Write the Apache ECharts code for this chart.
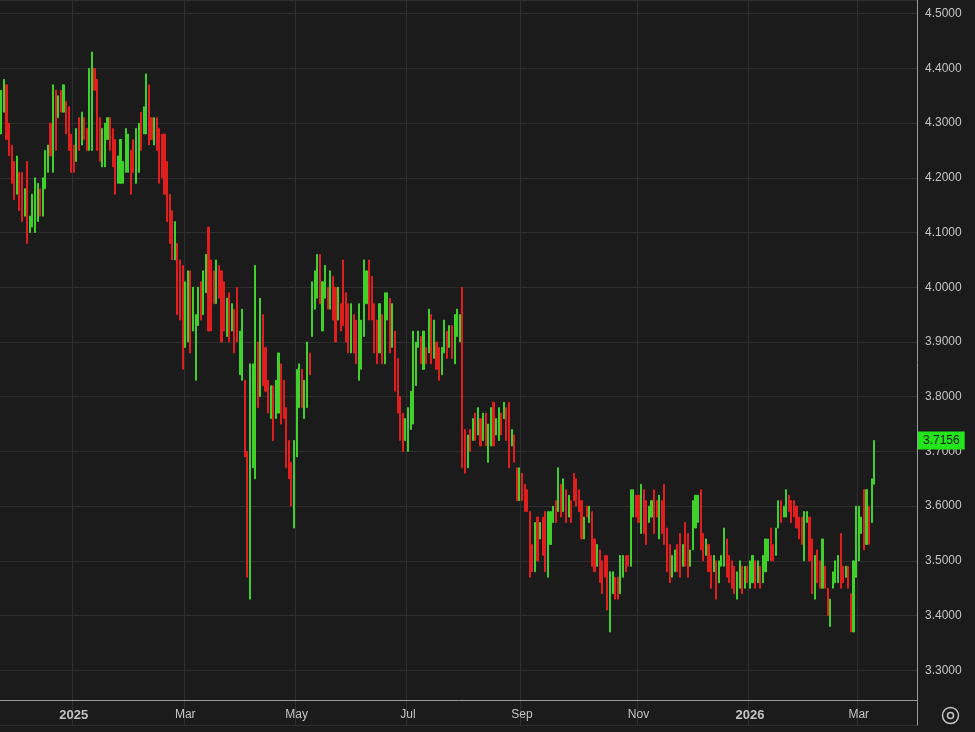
<!DOCTYPE html>
<html>
<head>
<meta charset="utf-8">
<script src="https://cdn.jsdelivr.net/npm/echarts@6/dist/echarts.min.js"></script>
<style>
  html, body { margin: 0; padding: 0; background: #1b1b1b; }
  #main { width: 975px; height: 732px; }
</style>
</head>
<body>
<div id="main"></div>
<script>
// daily bars: low, high and colour (g = up, r = down)
var lows = [4.28,4.32,4.27,4.24,4.19,4.16,4.17,4.14,4.12,4.13,4.08,4.10,4.11,4.10,
  4.12,4.13,
  4.13,4.18,4.21,4.24,4.21,4.25,4.31,4.32,4.32,4.28,4.25,4.21,4.21,4.23,4.25,4.26,4.27,4.25,4.25,4.25,4.36,4.25,4.23,4.22,4.22,4.27,
  4.25,4.22,4.17,4.19,4.19,4.19,4.21,4.21,4.17,4.21,4.19,4.21,4.25,4.28,4.28,4.26,4.27,4.26,4.25,4.19,
  4.20,
  4.17,4.12,4.08,4.05,4.05,3.95,3.94,3.85,3.89,3.90,3.88,3.92,3.83,3.93,3.94,3.95,3.99,3.92,3.92,3.97,3.97,3.98,3.90,3.92,
  3.91,3.90,3.92,3.88,
  3.90,3.84,3.83,3.69,3.47,3.43,3.67,3.65,3.78,3.80,3.82,3.81,3.77,3.76,3.72,3.76,
  3.77,3.75,3.76,3.67,3.65,3.60,3.56,3.69,3.78,3.78,3.76,3.78,3.84,3.91,3.96,3.98,3.97,3.92,3.98,3.96,
  3.96,3.94,3.90,3.94,3.92,3.93,3.90,3.88,3.88,3.88,3.86,3.83,3.85,3.91,3.97,3.94,3.94,3.88,3.86,3.88,
  3.86,3.86,3.94,3.88,3.89,3.81,3.77,3.72,3.70,3.72,3.70,3.74,3.75,3.82,3.89,3.86,3.85,3.86,3.88,3.86,
  3.87,3.85,3.83,3.84,3.88,3.87,3.89,3.87,3.86,3.91,3.90,3.67,3.66,3.67,3.70,3.72,
  3.72,3.73,3.71,3.72,
  3.71,3.68,3.71,3.71,3.73,3.72,3.73,3.76,3.72,3.67,3.71,3.68,3.61,3.61,3.61,3.59,3.59,3.47,3.48,3.48,3.50,3.54,3.51,3.48,
  3.47,3.53,3.57,3.57,3.59,
  3.58,3.59,3.57,3.58,3.57,
  3.61,3.60,3.59,3.54,3.54,3.58,3.57,3.49,
  3.48,3.49,3.46,3.44,
  3.47,3.41,3.37,3.44,3.43,3.43,3.44,3.47,3.48,3.49,3.49,3.58,3.58,3.57,3.55,3.55,3.53,3.57,3.58,3.55,3.58,3.54,3.55,3.53,3.48,3.46,3.47,
  3.48,3.48,3.47,3.49,3.49,
  3.47,3.49,3.52,3.56,3.57,3.52,3.50,3.51,3.48,3.45,3.48,3.43,3.46,3.49,3.49,3.47,3.46,3.45,3.44,3.43,3.45,3.44,3.45,3.46,3.45,
  3.46,3.45,3.46,3.45,3.46,
  3.48,3.50,3.50,3.50,3.51,3.56,3.57,3.58,3.58,3.59,3.57,3.58,3.56,3.54,3.53,3.50,3.57,3.50,3.44,3.43,3.46,3.45,3.45,3.45,3.40,3.38,3.45,3.46,3.46,3.45,
  3.46,3.47,3.45,3.37,3.37,3.47,3.50,3.55,3.52,3.53,3.53,3.57,3.64];
var highs = [4.36,4.38,4.37,4.30,4.26,4.23,4.24,4.21,4.21,4.18,4.23,4.13,4.17,4.20,
  4.19,4.18,
  4.20,4.25,4.26,4.30,4.37,4.36,4.35,4.36,4.37,4.34,4.33,4.28,4.26,4.29,4.31,4.32,4.31,4.29,4.40,4.43,4.40,4.38,4.31,4.29,4.30,4.31,
  4.31,4.29,4.27,4.24,4.27,4.23,4.29,4.28,4.25,4.27,4.29,4.30,4.32,4.33,4.39,4.37,4.31,4.31,4.31,4.29,
  4.28,
  4.28,4.23,4.17,4.14,4.12,4.08,4.05,4.04,4.01,4.03,4.03,4.00,3.95,4.00,4.01,4.03,4.06,4.11,4.05,4.03,4.05,4.04,4.03,4.01,
  3.98,3.99,3.97,3.96,
  4.00,3.92,3.96,3.83,3.70,3.86,3.86,4.04,3.90,3.98,3.95,3.89,3.83,3.82,3.82,3.83,
  3.88,3.86,3.83,3.78,3.72,3.68,3.72,3.85,3.86,3.85,3.83,3.90,3.88,4.01,4.03,4.06,4.06,4.01,4.04,4.00,
  4.03,4.02,4.00,4.00,3.97,4.05,3.99,3.97,3.97,3.95,3.94,3.97,3.94,4.05,4.03,4.05,4.02,3.97,3.94,3.97,
  3.95,3.99,3.99,3.98,3.97,3.92,3.87,3.80,3.77,3.76,3.78,3.81,3.92,3.90,3.92,3.91,3.92,3.89,3.96,3.95,
  3.94,3.90,3.89,3.89,3.94,3.92,3.93,3.93,3.95,3.96,3.95,4.00,3.74,3.73,3.74,3.76,
  3.77,3.78,3.76,3.77,
  3.77,3.75,3.78,3.79,3.76,3.78,3.77,3.79,3.78,3.79,3.74,3.73,3.67,3.67,3.66,3.64,3.63,3.59,3.53,3.57,3.58,3.57,3.58,3.59,
  3.59,3.59,3.60,3.61,3.67,
  3.64,3.65,3.63,3.62,3.61,
  3.66,3.65,3.63,3.61,3.58,3.60,3.60,3.59,
  3.54,3.53,3.52,3.50,
  3.51,3.51,3.48,3.48,3.47,3.47,3.51,3.51,3.51,3.51,3.63,3.63,3.62,3.62,3.64,3.63,3.61,3.60,3.61,3.63,3.61,3.62,3.61,3.64,3.56,3.53,3.51,
  3.52,3.53,3.55,3.53,3.57,
  3.55,3.52,3.61,3.62,3.62,3.63,3.55,3.54,3.53,3.51,3.51,3.50,3.50,3.51,3.56,3.54,3.51,3.50,3.49,3.48,3.50,3.49,3.49,3.49,3.50,
  3.51,3.50,3.50,3.49,3.51,
  3.54,3.54,3.56,3.53,3.56,3.61,3.61,3.60,3.63,3.62,3.61,3.61,3.60,3.58,3.58,3.59,3.59,3.58,3.54,3.51,3.52,3.50,3.54,3.49,3.45,3.43,3.48,3.50,3.51,3.55,
  3.49,3.49,3.49,3.44,3.50,3.60,3.60,3.58,3.63,3.63,3.60,3.65,3.72];
var dirs = 'ggrrrrgrrgrggg' + 'gr' +
  'gggrgr' + 'grgrrrrgrgrrggrrrggg' + 'rrrgggggrrggrggrrgrr' + 'r' +
  'rrrrgrrrggrgggrggrrr' + 'grrr' + 'grgr' +
  'rggrrg' + 'ggrgrrrgrg' + 'grrrrrgggr' + 'ggrgggrggr' + 'grrgrrrrgr' + 'rggggrrrrg' +
  'rggrgrrrrg' + 'gggggrgrgr' + 'grrggrgrgg' + 'grrgrg' + 'rgrg' +
  'rggr' + 'ggrgrrgrrg' + 'rrrrrgrgrr' + 'gggrg' + 'rgrgr' +
  'rrrrgrgr' + 'rgrr' +
  'rrggrrg' + 'grrggrrgrr' + 'ggrrgrrrrg' + 'grrgr' +
  'rggggrrgrrgrggg' + 'rrrrggrgrg' + 'grgrg' +
  'ggrrggrggr' + 'rrrrrggrrg' + 'rrgrrggggr' + 'rgrrggggrgrgg';
var lastPrice = 3.7156;
var yTicks = [3.3, 3.4, 3.5, 3.6, 3.7, 3.8, 3.9, 4.0, 4.1, 4.2, 4.3, 4.4, 4.5];

var n = Math.min(lows.length, highs.length, dirs.length);

// trading days ending 2026-03-10, plus empty room on the right
var endDate = new Date(2026, 2, 10);
var padDays = 16;
var dates = [];
var d = new Date(endDate);
while (dates.length < n) {
  var wd = d.getDay();
  if (wd !== 0 && wd !== 6) dates.unshift(new Date(d));
  d.setDate(d.getDate() - 1);
}
d = new Date(endDate);
for (var k = 0; k < padDays;) {
  d.setDate(d.getDate() + 1);
  if (d.getDay() !== 0 && d.getDay() !== 6) { dates.push(new Date(d)); k++; }
}
var cats = dates.map(function (x) { return x.getFullYear() + '-' + (x.getMonth() + 1) + '-' + x.getDate(); });
var monthNames = ['Jan','Feb','Mar','Apr','May','Jun','Jul','Aug','Sep','Oct','Nov','Dec'];

function isMark(i) {
  if (i === 0) return false;
  var a = dates[i], b = dates[i - 1];
  return a.getMonth() !== b.getMonth() && a.getMonth() % 2 === 0;
}

var ohlc = [];
for (var i = 0; i < n; i++) {
  var lo = lows[i], hi = highs[i];
  ohlc.push(dirs[i] === 'g' ? [lo, hi, lo, hi] : [hi, lo, lo, hi]);
}

var chart = echarts.init(document.getElementById('main'));
chart.setOption({
  backgroundColor: '#1b1b1b',
  animation: false,
  grid: { left: 0, right: 58, top: 0, bottom: 7 },
  xAxis: {
    type: 'category',
    data: cats,
    offset: -25,
    axisLine: { lineStyle: { color: '#9a9a9a' } },
    axisTick: { show: false },
    axisLabel: {
      interval: function (i) { return isMark(i); },
      color: '#c4c4c4',
      fontSize: 12,
      margin: 9,
      formatter: function (v, i) {
        var t = dates[i];
        if (t.getMonth() === 0) return '{y|' + t.getFullYear() + '}';
        return monthNames[t.getMonth()];
      },
      rich: { y: { fontWeight: 'bold', fontSize: 13, color: '#c4c4c4' } }
    },
    splitLine: {
      show: true,
      interval: function (i) { return isMark(i); },
      lineStyle: { color: '#2e2e2e' }
    }
  },
  yAxis: {
    type: 'value',
    position: 'right',
    min: 3.2,
    max: 4.525,
    interval: 0.1,
    axisLine: { show: true, lineStyle: { color: '#9a9a9a' } },
    axisTick: { show: false },
    axisLabel: {
      color: '#c4c4c4',
      fontSize: 12,
      margin: 8,
      formatter: function (v) {
        var r = Math.round(v * 10) / 10;
        if (Math.abs(v - r) > 1e-6) return '';
        return yTicks.indexOf(r) >= 0 ? r.toFixed(4) : '';
      }
    },
    splitLine: { lineStyle: { color: '#2e2e2e' } }
  },
  series: [{
    type: 'candlestick',
    data: ohlc,
    barWidth: 1.6,
    clip: false,
    itemStyle: {
      color: '#3fd12a', color0: '#e01e1e',
      borderColor: '#3fd12a', borderColor0: '#e01e1e', borderWidth: 1
    },
    markLine: {
      silent: true,
      symbol: 'none',
      lineStyle: { color: 'rgba(0,0,0,0)', width: 1, type: 'solid' },
      label: {
        show: true,
        position: 'end',
        formatter: lastPrice.toFixed(4),
        backgroundColor: '#22e61a',
        color: '#1b1b1b',
        fontSize: 12,
        padding: [3, 5],
        distance: 1
      },
      data: [{ yAxis: lastPrice }]
    }
  }],
  graphic: [
    { type: 'circle', left: 940, top: 705, shape: { r: 8 }, style: { fill: 'none', stroke: '#c4c4c4', lineWidth: 1.5 } },
    { type: 'circle', left: 945, top: 710, shape: { r: 3 }, style: { fill: 'none', stroke: '#c4c4c4', lineWidth: 1.5 } }
  ]
});
</script>
</body>
</html>
